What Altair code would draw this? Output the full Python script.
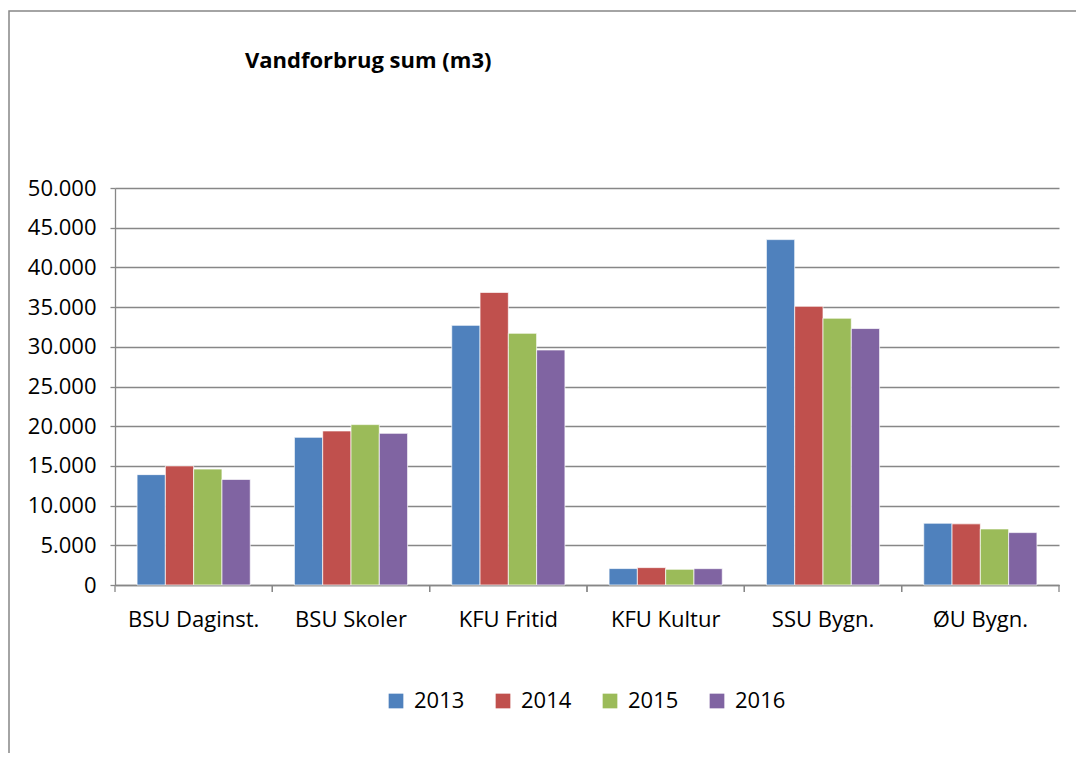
import altair as alt
import pandas as pd

categories = ["BSU Daginst.", "BSU Skoler", "KFU Fritid", "KFU Kultur", "SSU Bygn.", "ØU Bygn."]
years = ["2013", "2014", "2015", "2016"]
v2013 = [13900, 18600, 32700, 2070, 43500, 7780]
v2014 = [15000, 19400, 36850, 2190, 35100, 7700]
v2015 = [14600, 20200, 31700, 1980, 33600, 7060]
v2016 = [13300, 19100, 29600, 2060, 32300, 6600]
colors = ["#4F81BD", "#C0504D", "#9BBB59", "#8064A2"]
y_ticks = [0, 5000, 10000, 15000, 20000, 25000, 30000, 35000, 40000, 45000, 50000]

series = [v2013, v2014, v2015, v2016]
rows = []
for yr, vals in zip(years, series):
    for c, v in zip(categories, vals):
        rows.append({"cat": c, "year": yr, "value": v})
df = pd.DataFrame(rows)
cat_df = pd.DataFrame({"cat": categories})
one_df = pd.DataFrame({"k": [0]})

W, H = 944, 397
GREY = "#878787"

x_enc = alt.X("cat:N", sort=categories, title=None,
              scale=alt.Scale(paddingInner=0, paddingOuter=0),
              axis=alt.Axis(labelAngle=0, ticks=False, domain=True, domainColor=GREY,
                            domainWidth=1.3, labelPadding=24, grid=False))

bars = alt.Chart(df).mark_bar(stroke="white", strokeWidth=0.7).encode(
    x=x_enc,
    xOffset=alt.XOffset("year:N", sort=years,
                        scale=alt.Scale(paddingInner=0, paddingOuter=0.78)),
    y=alt.Y("value:Q", title=None,
            scale=alt.Scale(domain=[0, 50000], nice=False),
            axis=alt.Axis(values=y_ticks, grid=True, gridColor=GREY, gridWidth=1.3,
                          domainColor=GREY, domainWidth=1.3, tickColor=GREY, tickWidth=1.3,
                          tickSize=5, labelPadding=14,
                          labelExpr="replace(format(datum.value, ','), ',', '.')")),
    color=alt.Color("year:N", sort=years,
                    scale=alt.Scale(domain=years, range=colors),
                    legend=alt.Legend(title=None, orient="none", legendX=270, legendY=502,
                                      direction="horizontal", symbolType="square",
                                      symbolSize=216, symbolStrokeWidth=0,
                                      labelFontSize=22, labelOffset=7, columnPadding=27)),
)

ticks_start = alt.Chart(cat_df).mark_rule(color=GREY, strokeWidth=1.3).encode(
    x=alt.X("cat:N", sort=categories, bandPosition=0),
    y=alt.value(H), y2=alt.value(H + 7))
ticks_end = alt.Chart(cat_df).mark_rule(color=GREY, strokeWidth=1.3).encode(
    x=alt.X("cat:N", sort=categories, bandPosition=1),
    y=alt.value(H), y2=alt.value(H + 7))

frame = alt.Chart(one_df).mark_rect(filled=False, stroke=GREY, strokeWidth=1.5).encode(
    x=alt.value(-106), x2=alt.value(1200), y=alt.value(-177), y2=alt.value(900))

chart = alt.layer(frame, bars, ticks_start, ticks_end).properties(
    width=W, height=H,
    title=alt.TitleParams("Vandforbrug sum (m3)", anchor="start", frame="group",
                          dx=130, offset=0, dy=85, baseline="bottom",
                          fontSize=22, fontWeight="bold",
                          font="Open Sans", color="black"),
    autosize=alt.AutoSizeParams(type="none"),
    padding={"left": 107, "top": 180, "right": 17, "bottom": 168},
).configure(font="Open Sans").configure_view(stroke=None).configure_axis(
    labelFont="Open Sans", labelFontSize=22, labelColor="black"
).configure_legend(labelFont="Open Sans", labelColor="black")

chart.save("out.html", embed_options={"renderer": "svg", "actions": False})
